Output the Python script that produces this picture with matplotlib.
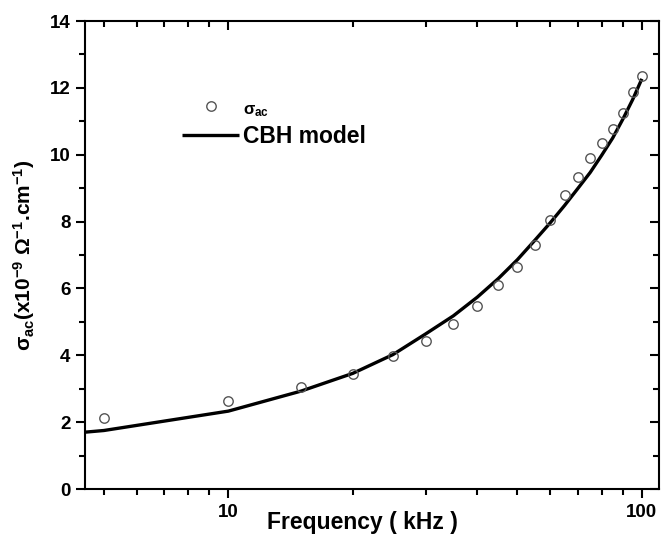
import matplotlib
matplotlib.use("Agg")
import matplotlib.pyplot as plt
from matplotlib.ticker import LogLocator, FixedLocator, MultipleLocator, NullFormatter, FixedFormatter

plt.rcParams['font.family'] = ['Liberation Sans', 'DejaVu Sans']
plt.rcParams['font.weight'] = 'bold'
plt.rcParams['mathtext.fontset'] = 'custom'
plt.rcParams['mathtext.rm'] = 'Liberation Sans:bold'
plt.rcParams['mathtext.it'] = 'Liberation Sans:bold'
plt.rcParams['mathtext.bf'] = 'Liberation Sans:bold'
plt.rcParams['mathtext.sf'] = 'Liberation Sans:bold'

# Measured data (kHz, x10^-9 S/cm)
freq = [5, 10, 15, 20, 25, 30, 35, 40, 45, 50, 55, 60, 65, 70, 75, 80, 85, 90, 95, 100]
sigma = [2.13, 2.64, 3.04, 3.45, 3.97, 4.42, 4.95, 5.48, 6.09, 6.65, 7.31, 8.06, 8.78,
         9.32, 9.89, 10.35, 10.77, 11.25, 11.87, 12.35]

# CBH model curve
model_freq = [4.5, 5, 10, 15, 20, 25, 30, 35, 40, 45, 50, 55, 60, 65, 70, 75, 80, 85, 90, 95, 100]
model_sigma = [1.70, 1.75, 2.33, 2.93, 3.46, 4.02, 4.64, 5.18, 5.74, 6.30, 6.86, 7.43, 7.96,
               8.48, 8.99, 9.47, 9.99, 10.50, 11.07, 11.65, 12.27]

x_ticks = [10, 100]
x_ticklabels = ['10', '100']
y_ticks = [0, 2, 4, 6, 8, 10, 12, 14]

fig = plt.figure(figsize=(6.61, 5.41), dpi=100)
ax = fig.add_axes([85/661, 1-489/541, (659-85)/661, (489-21)/541])

ax.plot(model_freq, model_sigma, color='black', lw=2.4, solid_capstyle='butt',
        label='CBH model', zorder=2)
ax.plot(freq, sigma, linestyle='none', marker='o', ms=6.8, mfc='none', mec='#555555',
        mew=1.0, label=r'$\sigma_{ac}$', zorder=3)

ax.set_xscale('log')
ax.set_xlim(4.5, 110)
ax.set_ylim(0, 14)
ax.xaxis.set_major_locator(FixedLocator(x_ticks))
ax.xaxis.set_major_formatter(FixedFormatter(x_ticklabels))
ax.xaxis.set_minor_locator(LogLocator(base=10, subs=range(2, 10)))
ax.xaxis.set_minor_formatter(NullFormatter())
ax.yaxis.set_major_locator(FixedLocator(y_ticks))
ax.yaxis.set_minor_locator(MultipleLocator(1))

for s in ax.spines.values():
    s.set_linewidth(1.5)

ax.tick_params(axis='both', which='major', length=6.5, width=1.5, labelsize=13.5, pad=4)
ax.tick_params(axis='both', which='minor', length=4, width=1.5)
ax.tick_params(axis='both', which='both', direction='out')
ax.tick_params(axis='x', which='both', top=True)
ax.tick_params(axis='y', which='both', right=True)
# top/right ticks point inward
for t in ax.xaxis.get_major_ticks() + ax.xaxis.get_minor_ticks():
    t.tick2line.set_marker(3)  # TICKDOWN
for t in ax.yaxis.get_major_ticks() + ax.yaxis.get_minor_ticks():
    t.tick2line.set_marker(0)  # TICKLEFT

ax.set_xlabel('Frequency ( kHz )', fontsize=16.5, fontweight='bold')
ax.xaxis.set_label_coords(0.484, -0.048, transform=ax.transAxes)
ax.xaxis.label.set_va('top')
ax.set_ylabel(r'$\sigma_{ac}$(x10$^{-9}$ $\Omega^{-1}$.cm$^{-1}$)', fontsize=15,
              fontweight='bold')
ax.yaxis.set_label_coords(-0.083, 0.5, transform=ax.transAxes)

h_line, = [l for l in ax.get_lines() if l.get_label() == 'CBH model']
h_pts, = [l for l in ax.get_lines() if l.get_label() != 'CBH model']
leg = ax.legend([h_pts, h_line], [r'$\sigma_{ac}$', 'CBH model'], loc='upper left',
                bbox_to_anchor=(0.133, 0.88), frameon=False, fontsize=16.5,
                handlelength=2.5, handletextpad=0.15, labelspacing=0.3)
leg.get_texts()[0].set_fontsize(12)

fig.savefig('out.png', dpi=100)
